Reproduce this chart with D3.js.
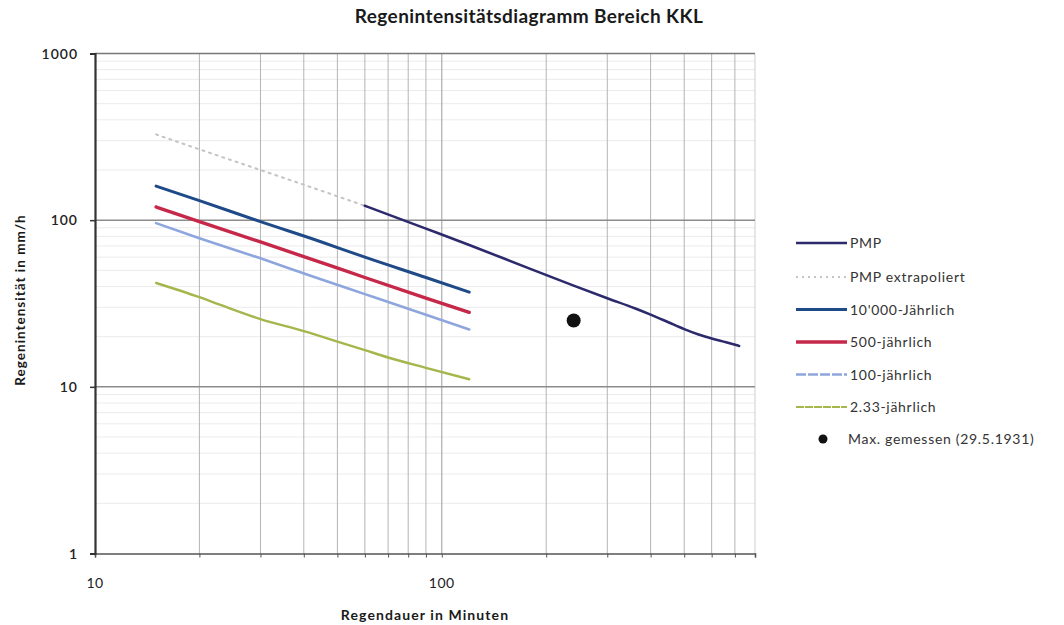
<!DOCTYPE html>
<html><head><meta charset="utf-8">
<script src="https://cdn.jsdelivr.net/npm/d3@7"></script>
<style>
html,body{margin:0;padding:0;background:#fff;}
svg{display:block;font-family:Lato,"Open Sans",sans-serif;}
</style></head>
<body>
<svg id="chart" width="1064" height="625"></svg>
<script>
// ---- data ----
const pmpDur = [60, 90, 120, 180, 240, 300, 360, 400, 450, 500, 550, 600, 660, 720];
const pmpVal = [122, 89, 71, 51, 40.5, 34, 29.6, 27.1, 24.4, 22.2, 20.6, 19.5, 18.5, 17.6];
const pmpExtDur = [15, 20, 30, 45, 60];
const pmpExtVal = [327, 266, 200, 150, 122];
const returnDur = [15, 20, 30, 45, 60, 90, 120];
const val10000 = [160, 131, 98, 74, 60, 45.3, 37];
const val500 = [120, 98, 74, 55.6, 45.3, 34.1, 28];
const val100 = [96, 78, 59, 44, 36, 27.1, 22.1];
const dur233 = [15, 20, 23, 30, 40, 50, 60, 70, 90, 120];
const val233 = [42, 34.5, 31, 25.5, 21.6, 18.7, 16.6, 15, 13, 11.1];
const maxDur = [240];
const maxVal = [25];
const xTickLabels = [10, 100];
const yTickLabels = [1, 10, 100, 1000];
const legendLabels = ["PMP", "PMP extrapoliert", "10'000-Jährlich", "500-jährlich", "100-jährlich", "2.33-jährlich", "Max. gemessen (29.5.1931)"];

const svg = d3.select("#chart");
const x = d3.scaleLog().domain([10, 800]).range([95, 755]);
const y = d3.scaleLog().domain([1, 1000]).range([553.5, 53.5]);

// minor horizontal grid
const minorY = [];
[1, 10, 100].forEach(d => { for (let k = 2; k <= 9; k++) minorY.push(d * k); });
svg.append("g").selectAll("line").data(minorY).join("line")
  .attr("x1", x(10)).attr("x2", x(800))
  .attr("y1", d => y(d)).attr("y2", d => y(d))
  .attr("stroke", "#ebebeb").attr("stroke-width", 1);

// vertical grid
const vGrid = [20,30,40,50,60,70,80,90,100,200,300,400,500,600,700,800];
svg.append("g").selectAll("line").data(vGrid).join("line")
  .attr("x1", d => x(d)).attr("x2", d => x(d))
  .attr("y1", y(1000)).attr("y2", y(1))
  .attr("stroke", d => (d === 100 ? "#9a9a9a" : d === 800 ? "#cfcfcf" : "#b4b4b4")).attr("stroke-width", 1);

// major horizontal grid
svg.append("g").selectAll("line").data([10, 100, 1000]).join("line")
  .attr("x1", x(10)).attr("x2", x(800))
  .attr("y1", d => y(d)).attr("y2", d => y(d))
  .attr("stroke", d => d === 1000 ? "#777" : "#8c8c8c").attr("stroke-width", 1.5);

// axes
const xAxis = d3.axisBottom(x).tickValues(vGrid.concat([10])).tickSize(4).tickFormat("");
svg.append("g").attr("transform", `translate(0,${y(1)})`).call(xAxis)
  .call(g => g.select(".domain").attr("stroke", "#555").attr("stroke-width", 1.6))
  .call(g => g.selectAll(".tick line").attr("stroke", "#555"));
const yAxis = d3.axisLeft(y).tickValues(yTickLabels).tickSize(5).tickFormat("");
svg.append("g").attr("transform", `translate(${x(10)},0)`).call(yAxis)
  .call(g => g.select(".domain").attr("stroke", "#333").attr("stroke-width", 2.2))
  .call(g => g.selectAll(".tick line").attr("stroke", "#333").attr("stroke-width", 1.5));

svg.append("g").selectAll("text").data(yTickLabels).join("text")
  .attr("x", 78).attr("y", d => y(d) + 5).attr("text-anchor", "end")
  .attr("font-size", 14).attr("letter-spacing", 1).attr("fill", "#222").attr("font-weight", 600).text(d => d);
svg.append("g").selectAll("text").data(xTickLabels).join("text")
  .attr("x", d => x(d)).attr("y", 588).attr("text-anchor", "middle")
  .attr("font-size", 14).attr("letter-spacing", 0.5).attr("fill", "#222").text(d => d);

// titles
svg.append("text").attr("x", 529).attr("y", 23).attr("text-anchor", "middle")
  .attr("font-size", 19).attr("letter-spacing", 0.4).attr("font-weight", 700).attr("fill", "#1a1a1a")
  .text("Regenintensitätsdiagramm Bereich KKL");
svg.append("text").attr("x", 425).attr("y", 620).attr("text-anchor", "middle")
  .attr("font-size", 14).attr("letter-spacing", 1.1).attr("font-weight", 700).attr("fill", "#1a1a1a")
  .text("Regendauer in Minuten");
svg.append("text").attr("transform", "translate(25,300) rotate(-90)").attr("text-anchor", "middle")
  .attr("font-size", 13.5).attr("letter-spacing", 1).attr("font-weight", 700).attr("fill", "#1a1a1a")
  .text("Regenintensität in mm/h");

// lines
const line = d3.line().x(d => x(d[0])).y(d => y(d[1])).curve(d3.curveMonotoneX);
const zip = (a, b) => a.map((d, i) => [d, b[i]]);
const series = [
  {pts: zip(pmpExtDur, pmpExtVal), color: "#c4c4c4", w: 2, dash: "2,5"},
  {pts: zip(returnDur, val100), color: "#8ea6dd", w: 2.6},
  {pts: zip(dur233, val233), color: "#a6b64c", w: 2.4},
  {pts: zip(returnDur, val500), color: "#c6284a", w: 3.4},
  {pts: zip(returnDur, val10000), color: "#1f4a88", w: 3},
  {pts: zip(pmpDur, pmpVal), color: "#2c2a6c", w: 2.6},
];
svg.append("g").selectAll("path").data(series).join("path")
  .attr("d", d => line(d.pts)).attr("fill", "none")
  .attr("stroke", d => d.color).attr("stroke-width", d => d.w)
  .attr("stroke-dasharray", d => d.dash || null).attr("stroke-linecap", "round");

// measured maximum
svg.append("g").selectAll("circle").data(zip(maxDur, maxVal)).join("circle")
  .attr("cx", d => x(d[0])).attr("cy", d => y(d[1])).attr("r", 7).attr("fill", "#111");

// legend
const legStyles = [
  {color: "#2c2a6c", w: 2.6},
  {color: "#c4c4c4", w: 2, dash: "2,4"},
  {color: "#1f4a88", w: 3},
  {color: "#c6284a", w: 3.4},
  {color: "#8ea6dd", w: 2.4, dash: "10,2"},
  {color: "#a6b64c", w: 2.2, dash: "8,1"},
  {dot: true}
];
const legY = [243, 277, 309.5, 342, 374.5, 407, 439];
const leg = svg.append("g").selectAll("g").data(legendLabels).join("g")
  .attr("transform", (d, i) => `translate(0,${legY[i]})`);
leg.each(function(d, i) {
  const g = d3.select(this), s = legStyles[i];
  if (s.dot) {
    g.append("circle").attr("cx", 823).attr("cy", 0).attr("r", 4.5).attr("fill", "#111");
  } else {
    g.append("line").attr("x1", 796).attr("x2", 847).attr("y1", 0).attr("y2", 0)
      .attr("stroke", s.color).attr("stroke-width", s.w)
      .attr("stroke-dasharray", s.dash || null);
  }
  g.append("text").attr("x", i === 6 ? 848 : 850).attr("y", 5)
    .attr("font-size", 14).attr("letter-spacing", 0.7).attr("fill", "#333").text(d);
});
</script>
</body></html>
